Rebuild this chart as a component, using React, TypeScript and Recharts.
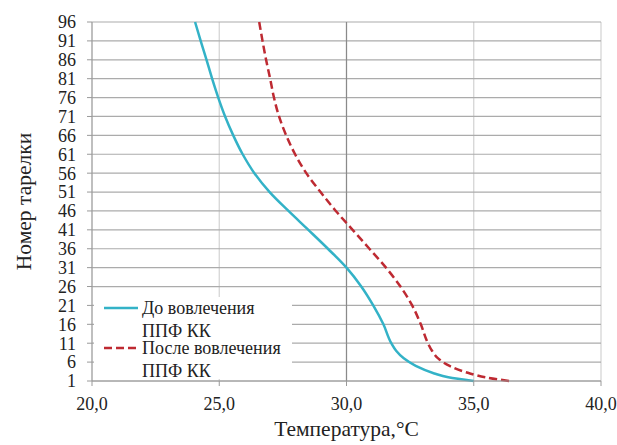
import { LineChart, Line, XAxis, YAxis, CartesianGrid, ReferenceLine, Legend } from "recharts";

const PLATES = [96, 91, 86, 81, 76, 71, 66, 61, 56, 51, 46, 41, 36, 31, 26, 21, 16, 11, 9, 7, 5, 3, 2, 1];
const TEMP_BEFORE = [24.05, 24.27, 24.5, 24.72, 24.96, 25.23, 25.55, 25.92, 26.38, 26.98, 27.72, 28.5, 29.27, 30.0, 30.58, 31.05, 31.45, 31.76, 31.95, 32.25, 32.72, 33.45, 34.0, 35.0];
const TEMP_AFTER = [26.57, 26.7, 26.84, 27.0, 27.15, 27.35, 27.63, 27.98, 28.42, 28.98, 29.58, 30.24, 30.9, 31.55, 32.12, 32.58, 32.92, 33.2, 33.36, 33.6, 34.05, 34.85, 35.45, 36.4];
const Y_TICKS = [1, 6, 11, 16, 21, 26, 31, 36, 41, 46, 51, 56, 61, 66, 71, 76, 81, 86, 91, 96];
const X_TICKS = [20, 25, 30, 35, 40];
const NAME_BEFORE = "До вовлечения\nППФ КК";
const NAME_AFTER = "После вовлечения\nППФ КК";

const BLUE = "#33B2C7";
const RED = "#BE2A32";
const FONT = "'Liberation Serif', Tinos, 'Times New Roman', 'DejaVu Serif', 'Noto Serif', serif";

const before = PLATES.map((n, i) => ({ t: TEMP_BEFORE[i], n }));
const after = PLATES.map((n, i) => ({ t: TEMP_AFTER[i], n }));

function LegendBox({ payload }: any) {
  return (
    <div style={{ background: "#fff", width: 198, height: 82, position: "relative", fontFamily: FONT, fontSize: 18, color: "#222" }}>
      {(payload || []).map((p: any, i: number) => (
        <div key={i} style={{ position: "absolute", left: 0, top: i * 40, height: 46 }}>
          <svg width={36} height={6} style={{ position: "absolute", left: 10, top: 8 }}>
            <line x1={0} y1={3} x2={34} y2={3} stroke={p.color} strokeWidth={2.5}
              strokeDasharray={p.payload?.strokeDasharray} />
          </svg>
          <div style={{ position: "absolute", left: 48, top: 0, whiteSpace: "pre", lineHeight: "23px" }}>{p.value}</div>
        </div>
      ))}
    </div>
  );
}

export default function App() {
  return (
    <div style={{ position: "absolute", left: 0, top: 0, background: "#fff" }}>
      <LineChart width={617} height={445} margin={{ top: 22, right: 16, left: 0, bottom: 0 }}>
        <CartesianGrid horizontal={false} stroke="#d2d2d2" strokeWidth={1.2} />
        <CartesianGrid vertical={false} stroke="#ababab" strokeWidth={1.2} />
        <ReferenceLine x={30} stroke="#8a8a8a" strokeWidth={1.2} />
        <XAxis
          type="number"
          dataKey="t"
          domain={[20, 40]}
          ticks={X_TICKS}
          tickFormatter={(v: number) => v.toFixed(1).replace(".", ",")}
          height={64}
          stroke="#9a9a9a"
          tickSize={5}
          tickMargin={11}
          tick={{ fill: "#222", fontSize: 18, fontFamily: FONT }}
          label={{ value: "Температура,°C", position: "insideBottom", offset: 9, fill: "#222", fontSize: 21.5, fontFamily: FONT }}
        />
        <YAxis
          type="number"
          dataKey="n"
          domain={[1, 96]}
          ticks={Y_TICKS}
          width={92}
          stroke="#9a9a9a"
          tickSize={5}
          tickMargin={11}
          interval={0}
          tick={{ fill: "#222", fontSize: 18, fontFamily: FONT }}
          label={{ value: "Номер тарелки", angle: -90, position: "insideLeft", offset: 23, fill: "#222", fontSize: 21.5, fontFamily: FONT, style: { textAnchor: "middle" } }}
        />
        <Line data={before} dataKey="n" name={NAME_BEFORE} type="monotoneY" stroke={BLUE} strokeWidth={2.5} dot={false} isAnimationActive={false} />
        <Line data={after} dataKey="n" name={NAME_AFTER} type="monotoneY" stroke={RED} strokeWidth={2.5} strokeDasharray="8 4" dot={false} isAnimationActive={false} />
        <Legend
          layout="vertical"
          align="center"
          verticalAlign="middle"
          content={<LegendBox />}
          wrapperStyle={{ position: "absolute", left: 94, top: 297, width: 198, height: 82 }}
        />
      </LineChart>
    </div>
  );
}
